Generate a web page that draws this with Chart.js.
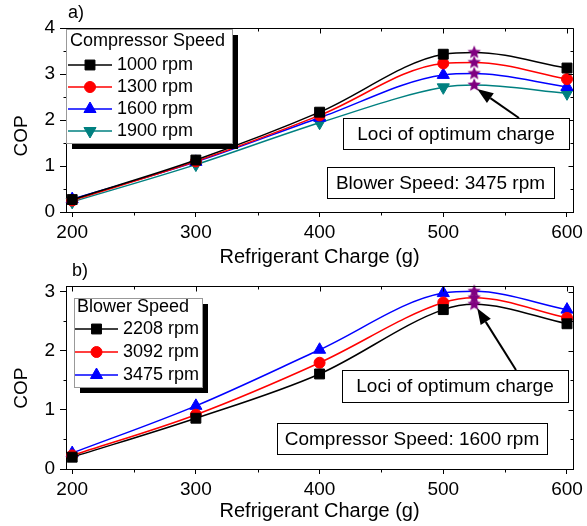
<!DOCTYPE html>
<html>
<head>
<meta charset="utf-8">
<script src="https://cdn.jsdelivr.net/npm/chart.js@4.4.1/dist/chart.umd.min.js"></script>
<style>
  body { margin: 0; background: #fff; }
  #wrap { position: relative; width: 587px; height: 526px; }
  canvas { position: absolute; left: 0; }
  #chartA { top: 0; }
  #chartB { top: 260px; }
</style>
</head>
<body>
<div id="wrap">
  <canvas id="chartA" width="587" height="270"></canvas>
  <canvas id="chartB" width="587" height="266"></canvas>
</div>
<script>
// values
const charge = [200, 300, 400, 500, 600];
const optCharge = 525;
const xTicks = [200, 300, 400, 500, 600];

// a) compressor speed series (blower 3475 rpm)
const compLabels = ['1000 rpm', '1300 rpm', '1600 rpm', '1900 rpm'];
const cop1000 = [0.27, 1.13, 2.17, 3.43, 3.13];
const cop1300 = [0.25, 1.10, 2.10, 3.23, 2.89];
const cop1600 = [0.28, 1.09, 2.05, 2.98, 2.72];
const cop1900 = [0.22, 1.03, 1.94, 2.71, 2.58];
const optA = [3.47, 3.25, 3.01, 2.76];
const yTicksA = [0, 1, 2, 3, 4];

// b) blower speed series (compressor 1600 rpm)
const blowLabels = ['2208 rpm', '3092 rpm', '3475 rpm'];
const cop2208 = [0.20, 0.86, 1.61, 2.70, 2.46];
const cop3092 = [0.23, 0.92, 1.80, 2.82, 2.56];
const cop3475 = [0.27, 1.07, 2.02, 2.98, 2.70];
const optB = [2.79, 2.90, 3.01];
const yTicksB = [0, 1, 2, 3];

const FONT = '"Liberation Sans", Arial, sans-serif';

const black = {color: '#000000', pointStyle: 'rect', radius: 7, rotation: 0};
const red = {color: '#ff0000', pointStyle: 'circle', radius: 5.5, rotation: 0};
const blue = {color: '#0000ff', pointStyle: 'triangle', radius: 7, rotation: 0};
const teal = {color: '#008080', pointStyle: 'triangle', radius: 7, rotation: 180};

function starImage(r) {
  const c = document.createElement('canvas');
  c.width = c.height = 2 * r + 2;
  const g = c.getContext('2d');
  g.fillStyle = '#800080';
  g.beginPath();
  for (let i = 0; i < 10; i++) {
    const rr = i % 2 ? r * 0.45 : r;
    const ang = -Math.PI / 2 + i * Math.PI / 5;
    g.lineTo(c.width / 2 + rr * Math.cos(ang), c.height / 2 + rr * Math.sin(ang));
  }
  g.closePath();
  g.fill();
  return c;
}
const starImg = starImage(7);

function series(label, values, opt, st) {
  const pts = charge.map((c, i) => ({x: c, y: values[i]}));
  pts.push({x: optCharge, y: opt});
  pts.sort((p, q) => p.x - q.x);
  return {
    label: label,
    data: pts,
    borderColor: st.color,
    backgroundColor: st.color,
    borderWidth: 1.5,
    pointStyle: st.pointStyle,
    pointRotation: st.rotation,
    pointRadius: pts.map(p => p.x === optCharge ? 0 : st.radius),
    pointBorderWidth: 1,
    pointBorderColor: st.color,
    pointBackgroundColor: st.color,
    cubicInterpolationMode: 'monotone',
    clip: false,
    st: st
  };
}

function optimum(values) {
  return {
    label: 'optimum',
    isOpt: true,
    data: values.map(v => ({x: optCharge, y: v})),
    showLine: false,
    pointStyle: starImg,
    pointRadius: 7,
    order: -1,
    clip: false
  };
}

// layout of the extras in each panel (canvas pixels)
const panels = {
  chartA: {
    tag: {text: 'a)', x: 68, y: 13},
    legend: {x: 66, y: 29, w: 166, h: 114, title: 'Compressor Speed', titleX: 70, titleY: 41,
             rowY: 65, rowStep: 22, lineX0: 68, lineX1: 112, textX: 117},
    notes: [
      {text: 'Loci of optimum charge', x: 343, y: 118, w: 226, h: 31},
      {text: 'Blower Speed: 3475 rpm', x: 327, y: 167, w: 227, h: 31}
    ],
    arrow: {x: 519, y: 118},
    opt: optA
  },
  chartB: {
    tag: {text: 'b)', x: 72, y: 11},
    legend: {x: 74, y: 38, w: 128, h: 89, title: 'Blower Speed', titleX: 77, titleY: 47,
             rowY: 69, rowStep: 23, lineX0: 75, lineX1: 118, textX: 123},
    notes: [
      {text: 'Loci of optimum charge', x: 342, y: 110, w: 226, h: 32},
      {text: 'Compressor Speed: 1600 rpm', x: 277, y: 163, w: 270, h: 31}
    ],
    arrow: {x: 516, y: 110},
    opt: optB
  }
};

const framePlugin = {
  id: 'frame',
  afterDraw(chart) {
    const {ctx, chartArea: a, scales: {x, y}} = chart;
    const al = v => Math.round(v) + 0.5;
    const yt = chart.options.scales.y.tickList;
    ctx.save();
    ctx.strokeStyle = '#000';
    ctx.lineWidth = 1;
    ctx.beginPath();
    ctx.moveTo(al(a.left), al(a.top));
    ctx.lineTo(al(a.right), al(a.top));
    ctx.lineTo(al(a.right), al(a.bottom));
    // x ticks: mirrored on top, minors on both sides
    xTicks.forEach((v, i) => {
      const px = al(x.getPixelForValue(v));
      ctx.moveTo(px, al(a.top)); ctx.lineTo(px, al(a.top) + 5);
      if (i < xTicks.length - 1) {
        const mx = al(x.getPixelForValue((v + xTicks[i + 1]) / 2));
        ctx.moveTo(mx, al(a.top)); ctx.lineTo(mx, al(a.top) + 3);
        ctx.moveTo(mx, al(a.bottom)); ctx.lineTo(mx, al(a.bottom) + 3);
      }
    });
    const ymax = chart.options.scales.y.max;
    yt.forEach((v, i) => {
      const py = al(y.getPixelForValue(v));
      ctx.moveTo(al(a.right), py); ctx.lineTo(al(a.right) - 5, py);
      const m = v + 0.5;
      if (m < ymax) {
        const my = al(y.getPixelForValue(m));
        ctx.moveTo(al(a.right), my); ctx.lineTo(al(a.right) - 3, my);
        ctx.moveTo(al(a.left), my); ctx.lineTo(al(a.left) - 3, my);
      }
    });
    ctx.stroke();
    ctx.restore();
  }
};

const panelPlugin = {
  id: 'panel',
  afterDraw(chart) {
    const p = panels[chart.canvas.id];
    const {ctx, scales: {x, y}} = chart;
    ctx.save();
    ctx.textBaseline = 'middle';
    ctx.fillStyle = '#000';

    // panel tag
    ctx.font = '18px ' + FONT;
    ctx.textAlign = 'left';
    ctx.fillText(p.tag.text, p.tag.x, p.tag.y);

    // legend with drop shadow
    const L = p.legend;
    ctx.fillStyle = '#000';
    ctx.fillRect(L.x + 6, L.y + 6, L.w, L.h);
    ctx.fillStyle = '#fff';
    ctx.fillRect(L.x, L.y, L.w, L.h);
    ctx.strokeStyle = '#999';
    ctx.lineWidth = 1;
    ctx.strokeRect(L.x + 0.5, L.y + 0.5, L.w, L.h);
    ctx.fillStyle = '#000';
    ctx.font = '18px ' + FONT;
    ctx.fillText(L.title, L.titleX, L.titleY);
    chart.data.datasets.filter(d => !d.isOpt).forEach((d, i) => {
      const ry = L.rowY + i * L.rowStep;
      const st = d.st;
      ctx.strokeStyle = st.color;
      ctx.fillStyle = st.color;
      ctx.lineWidth = 1.5;
      ctx.beginPath();
      ctx.moveTo(L.lineX0, ry);
      ctx.lineTo(L.lineX1, ry);
      ctx.stroke();
      ctx.lineWidth = 1;
      Chart.helpers.drawPoint(ctx, {pointStyle: st.pointStyle, rotation: st.rotation, radius: st.radius, borderWidth: 1},
        (L.lineX0 + L.lineX1) / 2, ry);
      ctx.fillStyle = '#000';
      ctx.fillText(d.label, L.textX, ry);
    });

    // note boxes
    ctx.font = '19px ' + FONT;
    ctx.textAlign = 'center';
    p.notes.forEach(n => {
      ctx.fillStyle = '#fff';
      ctx.fillRect(n.x, n.y, n.w, n.h);
      ctx.strokeStyle = '#000';
      ctx.lineWidth = 1;
      ctx.strokeRect(n.x + 0.5, n.y + 0.5, n.w, n.h);
      ctx.fillStyle = '#000';
      ctx.fillText(n.text, n.x + n.w / 2, n.y + n.h / 2 + 1);
    });

    // arrow to the lowest optimum star
    const tx = x.getPixelForValue(optCharge) + 3;
    const ty = y.getPixelForValue(Math.min(...p.opt)) + 4;
    const ang = Math.atan2(ty - p.arrow.y, tx - p.arrow.x);
    const hl = 16, hw = 6;
    const bx = tx - hl * Math.cos(ang), by = ty - hl * Math.sin(ang);
    ctx.strokeStyle = '#000';
    ctx.lineWidth = 2;
    ctx.beginPath();
    ctx.moveTo(p.arrow.x, p.arrow.y);
    ctx.lineTo(bx, by);
    ctx.stroke();
    ctx.fillStyle = '#000';
    ctx.beginPath();
    ctx.moveTo(tx, ty);
    ctx.lineTo(bx + hw * Math.sin(ang), by - hw * Math.cos(ang));
    ctx.lineTo(bx - hw * Math.sin(ang), by + hw * Math.cos(ang));
    ctx.closePath();
    ctx.fill();
    ctx.restore();
  }
};

function makeChart(id, datasets, o) {
  return new Chart(document.getElementById(id), {
    type: 'line',
    data: {datasets: datasets},
    options: {
      responsive: false,
      animation: false,
      devicePixelRatio: 1,
      layout: {padding: {top: o.top, right: 13, left: 0, bottom: 0}},
      plugins: {legend: {display: false}, tooltip: {enabled: false}},
      scales: {
        x: {
          type: 'linear', min: 195, max: 605,
          afterBuildTicks: s => { s.ticks = xTicks.map(v => ({value: v})); },
          afterFit: s => { s.height = o.xh; },
          grid: {drawOnChartArea: false, drawTicks: true, tickLength: 5, color: '#000'},
          border: {color: '#000', width: 1},
          ticks: {color: '#000', font: {family: FONT, size: 19}, padding: 4},
          title: {display: true, text: 'Refrigerant Charge (g)', color: '#000',
                  font: {family: FONT, size: 20}, padding: {top: 0, bottom: o.titlePad}}
        },
        y: {
          type: 'linear', min: 0, max: o.ymax,
          tickList: o.yTicks,
          afterBuildTicks: s => { s.ticks = o.yTicks.map(v => ({value: v})); },
          afterFit: s => { s.width = 66; },
          grid: {drawOnChartArea: false, drawTicks: true, tickLength: 6, color: '#000'},
          border: {color: '#000', width: 1},
          ticks: {color: '#000', font: {family: FONT, size: 19}, padding: 5},
          title: {display: true, text: o.yTitle, color: '#000',
                  font: {family: FONT, size: 19}, padding: {top: 10, bottom: 0}}
        }
      }
    },
    plugins: [framePlugin, panelPlugin]
  });
}

makeChart('chartA', [
  series(compLabels[0], cop1000, optA[0], black),
  series(compLabels[1], cop1300, optA[1], red),
  series(compLabels[2], cop1600, optA[2], blue),
  series(compLabels[3], cop1900, optA[3], teal),
  optimum(optA)
], {top: 28, xh: 58, titlePad: 1, ymax: 4, yTicks: yTicksA, yTitle: 'COP      '});

makeChart('chartB', [
  series(blowLabels[0], cop2208, optB[0], black),
  series(blowLabels[1], cop3092, optB[1], red),
  series(blowLabels[2], cop3475, optB[2], blue),
  optimum(optB)
], {top: 26, xh: 57, titlePad: 3, ymax: 3.1, yTicks: yTicksB, yTitle: 'COP    '});
</script>
</body>
</html>
